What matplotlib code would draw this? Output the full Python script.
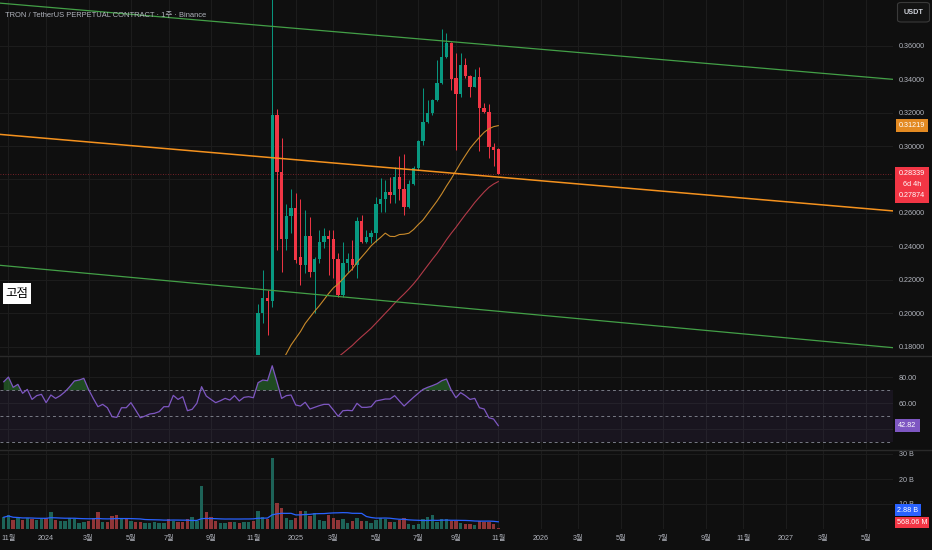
import numpy as np
import pandas as pd
import matplotlib
matplotlib.use("Agg")
import matplotlib.pyplot as plt
import matplotlib.dates as mdates
from matplotlib.patches import Rectangle, FancyBboxPatch
from matplotlib.lines import Line2D

plt.rcParams['font.family'] = ['Liberation Sans', 'Noto Sans CJK KR', 'DejaVu Sans']

# ---- datos semanales TRX/USDT perp ----
weeks = pd.date_range('2023-10-30', periods=106, freq='7D')

opens = [0.0970, 0.1010, 0.1035, 0.1010, 0.1040, 0.1030, 0.1060, 0.1040, 0.1065, 0.1090,
         0.1070, 0.1110, 0.1080, 0.1100, 0.1150, 0.1220, 0.1290, 0.1350, 0.1400, 0.1340,
         0.1280, 0.1200, 0.1230, 0.1190, 0.1150, 0.1130, 0.1170, 0.1150, 0.1230, 0.1210,
         0.1180, 0.1200, 0.1220, 0.1240, 0.1270, 0.1310, 0.1280, 0.1330, 0.1310, 0.1290,
         0.1250, 0.1330, 0.1420, 0.1600, 0.1550, 0.1510, 0.1490, 0.1530, 0.1560, 0.1540,
         0.1580, 0.1560, 0.1620, 0.1640,
         0.1620, 0.1999, 0.2089, 0.2075, 0.3186, 0.2847, 0.2442, 0.2581, 0.2627, 0.2338,
         0.2288, 0.2464, 0.2249, 0.2324, 0.2426, 0.2464, 0.2442, 0.2322, 0.2109, 0.2298,
         0.2324, 0.2288, 0.2552, 0.2428, 0.2455, 0.2478, 0.2653, 0.2681, 0.2723, 0.2707,
         0.2817, 0.2741, 0.2633, 0.2771, 0.2871, 0.3030, 0.3142, 0.3196, 0.3275, 0.3379,
         0.3530, 0.3614, 0.3409, 0.3309, 0.3485, 0.3419, 0.3355, 0.3415, 0.3229, 0.3201,
         0.2996, 0.2980]
highs = [0.1040, 0.1060, 0.1050, 0.1060, 0.1060, 0.1080, 0.1070, 0.1080, 0.1110, 0.1100,
         0.1130, 0.1120, 0.1110, 0.1170, 0.1240, 0.1310, 0.1380, 0.1440, 0.1430, 0.1370,
         0.1300, 0.1260, 0.1250, 0.1210, 0.1170, 0.1190, 0.1190, 0.1250, 0.1250, 0.1220,
         0.1220, 0.1240, 0.1260, 0.1290, 0.1330, 0.1330, 0.1350, 0.1350, 0.1320, 0.1300,
         0.1350, 0.1440, 0.1700, 0.1640, 0.1570, 0.1530, 0.1550, 0.1590, 0.1580, 0.1600,
         0.1600, 0.1640, 0.1670, 0.1660,
         0.2055, 0.2258, 0.2139, 0.4490, 0.3221, 0.3046, 0.2653, 0.2743, 0.2717, 0.2683,
         0.2617, 0.2577, 0.2335, 0.2498, 0.2508, 0.2498, 0.2498, 0.2358, 0.2428, 0.2358,
         0.2438, 0.2577, 0.2587, 0.2498, 0.2498, 0.2697, 0.2807, 0.2797, 0.2817, 0.2877,
         0.2942, 0.2952, 0.2797, 0.2883, 0.3036, 0.3349, 0.3275, 0.3283, 0.3514, 0.3702,
         0.3674, 0.3624, 0.3554, 0.3554, 0.3524, 0.3425, 0.3459, 0.3475, 0.3255, 0.3251,
         0.3016, 0.2986]
lows = [0.0950, 0.0990, 0.0990, 0.0990, 0.1010, 0.1020, 0.1020, 0.1030, 0.1050, 0.1060,
        0.1060, 0.1070, 0.1070, 0.1090, 0.1140, 0.1200, 0.1270, 0.1330, 0.1320, 0.1260,
        0.1180, 0.1180, 0.1170, 0.1130, 0.1110, 0.1120, 0.1130, 0.1140, 0.1190, 0.1160,
        0.1160, 0.1190, 0.1210, 0.1230, 0.1260, 0.1260, 0.1270, 0.1290, 0.1270, 0.1230,
        0.1240, 0.1320, 0.1400, 0.1500, 0.1480, 0.1460, 0.1470, 0.1510, 0.1510, 0.1530,
        0.1540, 0.1550, 0.1610, 0.1600,
        0.1600, 0.1940, 0.1870, 0.2039, 0.2378, 0.2249, 0.2378, 0.2478, 0.2298, 0.2169,
        0.2239, 0.2219, 0.1999, 0.2298, 0.2388, 0.2229, 0.2209, 0.2099, 0.2099, 0.2249,
        0.2259, 0.2209, 0.2420, 0.2418, 0.2418, 0.2428, 0.2607, 0.2607, 0.2657, 0.2657,
        0.2677, 0.2587, 0.2627, 0.2767, 0.2857, 0.3006, 0.3136, 0.3186, 0.3270, 0.3370,
        0.3524, 0.3335, 0.2976, 0.3295, 0.3405, 0.3295, 0.3350, 0.2972, 0.3196, 0.2926,
        0.2883, 0.2830]
closes = [0.1010, 0.1035, 0.1010, 0.1040, 0.1030, 0.1060, 0.1040, 0.1065, 0.1090, 0.1070,
          0.1110, 0.1080, 0.1100, 0.1150, 0.1220, 0.1290, 0.1350, 0.1400, 0.1340, 0.1280,
          0.1200, 0.1230, 0.1190, 0.1150, 0.1130, 0.1170, 0.1150, 0.1230, 0.1210, 0.1180,
          0.1200, 0.1220, 0.1240, 0.1270, 0.1310, 0.1280, 0.1330, 0.1310, 0.1290, 0.1250,
          0.1330, 0.1420, 0.1600, 0.1550, 0.1510, 0.1490, 0.1530, 0.1560, 0.1540, 0.1580,
          0.1560, 0.1620, 0.1640, 0.1620,
          0.1999, 0.2089, 0.2075, 0.3186, 0.2847, 0.2442, 0.2581, 0.2627, 0.2320, 0.2288,
          0.2464, 0.2249, 0.2324, 0.2426, 0.2464, 0.2442, 0.2322, 0.2109, 0.2298, 0.2324,
          0.2288, 0.2552, 0.2428, 0.2455, 0.2478, 0.2653, 0.2681, 0.2723, 0.2707, 0.2817,
          0.2741, 0.2633, 0.2771, 0.2871, 0.3030, 0.3142, 0.3196, 0.3275, 0.3379, 0.3530,
          0.3614, 0.3401, 0.3309, 0.3485, 0.3419, 0.3355, 0.3415, 0.3225, 0.3201, 0.2996,
          0.2978, 0.28339]

# volumen en miles de millones (B)
volume_b = [4.7, 5.7, 3.7, 4.3, 3.7, 4.5, 4.1, 3.7, 4.1, 4.3,
            7.0, 3.8, 3.4, 3.4, 4.3, 4.1, 2.5, 3.0, 3.4, 4.3,
            7.0, 3.0, 3.0, 5.1, 5.7, 4.3, 4.1, 3.4, 2.7, 3.0,
            2.3, 2.5, 2.7, 2.5, 2.5, 4.1, 3.1, 2.7, 2.7, 4.1,
            4.7, 3.4, 17.1, 7.0, 4.7, 3.4, 2.3, 2.3, 3.0, 2.7,
            2.3, 3.0, 2.7, 3.4,
            7.4, 4.7, 4.1, 28.3, 10.5, 8.5, 4.3, 3.7, 4.3, 7.4,
            7.4, 5.1, 6.5, 3.7, 3.4, 5.8, 4.5, 3.8, 4.1, 2.5,
            3.1, 4.5, 3.4, 3.4, 2.5, 3.8, 4.5, 4.1, 2.7, 2.7,
            3.8, 4.6, 2.1, 1.7, 2.1, 4.1, 4.7, 5.5, 3.0, 4.1,
            3.9, 3.1, 3.4, 2.5, 2.1, 2.1, 1.7, 3.1, 2.7, 3.0,
            2.1, 0.56806]

rsi = [76.6, 80.2, 72.3, 74.6, 67.7, 70.7, 63.0, 65.9, 66.9, 60.5,
       66.4, 63.8, 65.9, 68.9, 72.8, 77.2, 77.9, 79.2, 70.7, 63.8,
       57.4, 59.2, 56.6, 49.7, 49.2, 56.6, 56.6, 60.5, 54.8, 48.9,
       50.2, 51.8, 52.3, 53.6, 57.4, 57.4, 66.1, 63.0, 65.1, 54.3,
       55.4, 60.0, 72.8, 65.6, 63.0, 60.5, 62.0, 63.8, 62.5, 65.9,
       61.8, 64.6, 65.1, 64.3, 75.9, 77.9, 77.4, 88.9, 76.6, 63.8,
       65.9, 66.4, 58.7, 57.9, 60.8, 55.6, 56.9, 58.2, 59.2, 59.2,
       54.8, 50.0, 54.3, 54.6, 54.3, 60.0, 56.9, 56.9, 57.4, 61.8,
       62.5, 63.3, 63.3, 65.9, 61.8, 57.9, 61.3, 64.6, 67.7, 70.7,
       72.3, 73.6, 75.1, 77.4, 78.7, 70.2, 64.3, 68.2, 65.9, 63.0,
       63.8, 56.6, 55.6, 48.9, 47.9, 42.82]

# canal dibujado (dos puntos por linea)
channel_upper = [('2023-10-23', 0.3855), ('2027-06-12', 0.3399)]
channel_mid = [('2023-10-23', 0.3070), ('2027-06-12', 0.2612)]
channel_lower = [('2023-10-23', 0.2287), ('2027-06-12', 0.1794)]

price_ticks = [0.18, 0.20, 0.22, 0.24, 0.26, 0.28, 0.30, 0.32, 0.34, 0.36]
hidden_price_ticks = [0.28]   # tapado por la etiqueta del precio
rsi_ticks = [40, 60, 80]
vol_ticks = [10, 20, 30]
countdown = '6d 4h'
title = 'TRON / TetherUS PERPETUAL CONTRACT · 1주 · Binance'
note = '고점'

# ---- estilo ----
BG = '#0f0f0f'
GRID = '#1c1c1c'
TXT = '#b2b5be'
UP, DOWN = '#089981', '#f23645'
W, H = 932, 550
FS = 5.2

fig = plt.figure(figsize=(W / 100, H / 100), dpi=100, facecolor=BG)


def rect(x0, y0, x1, y1):
    return [x0 / W, 1 - y1 / H, (x1 - x0) / W, (y1 - y0) / H]


ax = fig.add_axes(rect(0, 0, 893, 355))
ax_rsi = fig.add_axes(rect(0, 356, 893, 449), sharex=ax)
ax_vol = fig.add_axes(rect(0, 451, 893, 529), sharex=ax)

x = mdates.date2num(weeks)
last = x[-1]
for a in (ax, ax_rsi, ax_vol):
    a.set_facecolor(BG)
    for s in a.spines.values():
        s.set_visible(False)
    a.grid(True, color=GRID, lw=0.8)
    a.set_axisbelow(True)
    a.yaxis.tick_right()
    a.tick_params(axis='both', length=0, colors=TXT, labelsize=FS)
    a.tick_params(axis='y', pad=4.3)
    a.tick_params(axis='x', labelbottom=False)
ax_vol.tick_params(axis='x', labelbottom=True, pad=4.6)

ax.set_xlim(last - 498.3 / 4.71 * 7, last + (893 - 498.3) / 4.71 * 7)

month_starts = pd.date_range('2023-11-01', '2027-05-01', freq='2MS')
tick_days = [d + pd.Timedelta(days=(7 - d.weekday()) % 7) for d in month_starts]
tick_labels = [str(d.year) if d.month == 1 else f'{d.month}월' for d in month_starts]
ax.set_xticks(mdates.date2num(tick_days))
ax_vol.set_xticklabels(tick_labels)

# ---- velas ----
o, h, l, c = map(np.array, (opens, highs, lows, closes))
up = c >= o
cols = np.where(up, UP, DOWN)
ax.vlines(x, l, h, colors=cols, lw=0.7, zorder=2)
ax.bar(x, np.maximum(np.abs(c - o), 0.0005), bottom=np.minimum(o, c), width=5.0,
       color=cols, lw=0, zorder=3)

ma25 = pd.Series(c).rolling(25).mean()
ma50 = pd.Series(c).rolling(50).mean()
ax.plot(x, ma25, color='#c98a2a', lw=0.8, zorder=4)
ax.plot(x, ma50, color='#b23a48', lw=0.8, zorder=4)

for pts, colr, lw in ((channel_upper, '#43a047', 0.9),
                      (channel_mid, '#f5921e', 1.1),
                      (channel_lower, '#43a047', 0.9)):
    (d1, p1), (d2, p2) = pts
    ax.axline((mdates.datestr2num(d1), p1), (mdates.datestr2num(d2), p2),
              color=colr, lw=lw, zorder=5)

ax.axhline(c[-1], color='#f23645', lw=0.6, ls=(0, (1, 2)), alpha=0.6, zorder=1)
ax.set_ylim(0.1750, 0.38733)
ax.set_yticks(price_ticks)
ax.set_yticklabels(['' if v in hidden_price_ticks else f'{v:.5f}' for v in price_ticks])

# ---- RSI ----
r = np.array(rsi)
ax_rsi.axhspan(30, 70, color='#7e57c2', alpha=0.09, lw=0)
for lvl in (70, 50, 30):
    ax_rsi.axhline(lvl, color='#787b86', lw=0.7, ls=(0, (3, 3)))
ax_rsi.fill_between(x, r, 70, where=r > 70, interpolate=True, color='#2e7d32',
                    alpha=0.55, lw=0)
ax_rsi.plot(x, r, color='#7e57c2', lw=0.9)
ax_rsi.set_ylim(24.85, 96.4)
ax_rsi.set_yticks(rsi_ticks)
ax_rsi.set_yticklabels([f'{v:.2f}' for v in rsi_ticks])

# ---- volumen ----
v = np.array(volume_b)
vcols = np.where(up, '#1d6358', '#8f3537')
ax_vol.bar(x, v, width=5.0, color=vcols, lw=0)
vma = pd.Series(v).rolling(20, min_periods=1).mean()
ax_vol.plot(x, vma, color='#2962ff', lw=0.9)
ax_vol.set_ylim(0, 31.2)
ax_vol.set_yticks(vol_ticks)
ax_vol.set_yticklabels([f'{t} B' for t in vol_ticks])

# separadores de paneles
for yy in (355.5, 450):
    fig.add_artist(Line2D([0, 1], [1 - yy / H] * 2, color='#2a2a2a', lw=1))


# ---- etiquetas de la escala derecha ----
def ypix(a, val):
    return H - a.transData.transform((0, val))[1]


def box(x0, y0, x1, y1, fc):
    fig.add_artist(Rectangle((x0 / W, 1 - y1 / H), (x1 - x0) / W, (y1 - y0) / H,
                             transform=fig.transFigure, fc=fc, ec='none', zorder=10))


def label(xc, yc, s, color='white', **kw):
    fig.text(xc / W, 1 - yc / H, s, ha='center', va='center', color=color,
             fontsize=FS, zorder=11, **kw)


yc = ypix(ax, ma25.iloc[-1])
box(896, yc - 6.7, 928, yc + 6.7, '#e38a22')
label(912, yc, f'{ma25.iloc[-1]:.5f}')

py = ypix(ax, c[-1])
box(895, py - 6.8, 929, py + 29.2, '#f23645')
label(912, py, f'{c[-1]:.5f}')
label(912, py + 10.7, countdown)
label(912, py + 21.3, f'{ma50.iloc[-1]:.5f}')

yc = ypix(ax_rsi, r[-1])
box(895, yc - 6.2, 920, yc + 6.2, '#7e57c2')
label(907.5, yc, f'{r[-1]:.2f}')

box(895, 504.3, 921, 516, '#2962ff')
label(908, 510.2, f'{vma.iloc[-1]:.2f} B')
box(895, 516.7, 929, 528.3, '#f23645')
label(912, 522.5, f'{v[-1] * 1000:.2f} M')

fig.add_artist(FancyBboxPatch((897.5 / W, 1 - 22 / H), 32 / W, 19.5 / H,
                              boxstyle='round,pad=0,rounding_size=0.004',
                              transform=fig.transFigure, fc='#131313', ec='#3a3a3a',
                              lw=0.8, zorder=10))
label(913.5, 12.3, 'USDT', color='#d1d4dc', fontweight='bold')

# titulo y nota
fig.text(5 / W, 1 - 15.3 / H, title, ha='left', va='center', color=TXT, fontsize=5.4)
box(3, 283, 31, 304, 'white')
fig.text(17 / W, 1 - 293.5 / H, note, ha='center', va='center', color='black',
         fontsize=9, zorder=11)

fig.savefig('out.png', dpi=100, facecolor=BG)
